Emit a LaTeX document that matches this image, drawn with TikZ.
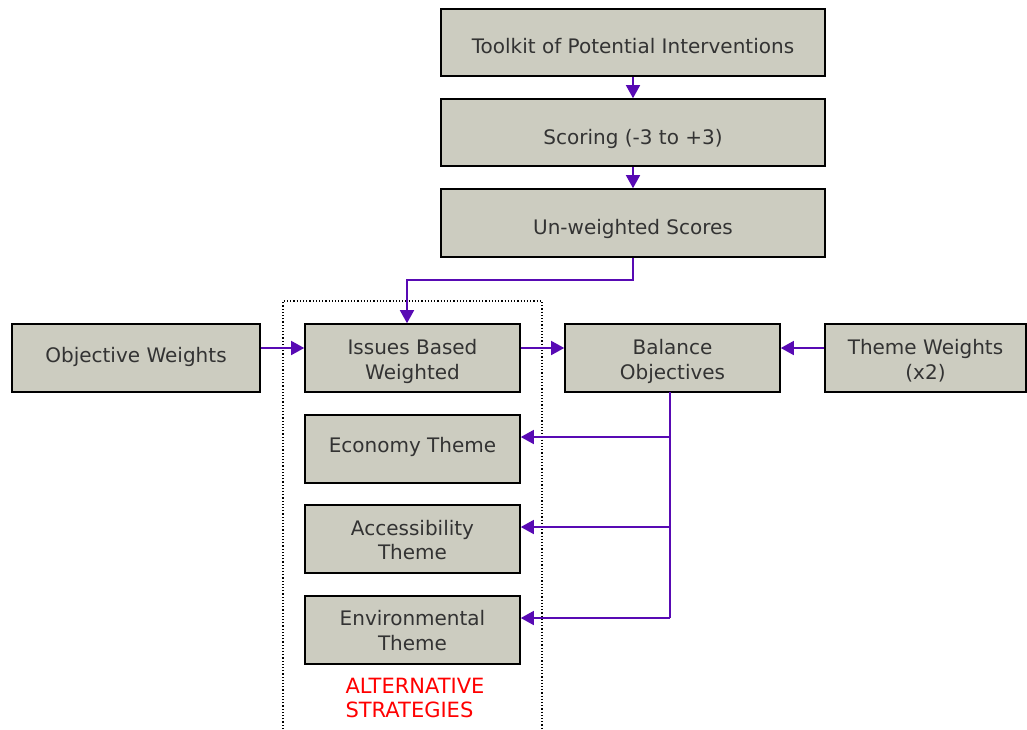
\documentclass[tikz,border=0pt]{standalone}
\usepackage{fontspec}
\setmainfont{DejaVu Sans}
\usetikzlibrary{arrows.meta}
\definecolor{boxfill}{RGB}{204,204,192}
\definecolor{arrowc}{RGB}{88,10,180}
\definecolor{txt}{RGB}{51,51,51}
\newcommand\lowtxt[2]{\raisebox{-#1}[\height][\depth]{\begin{tabular}{@{}c@{}}#2\end{tabular}}}
\begin{document}
\begin{tikzpicture}[x=1pt,y=-1pt,
  box/.style={draw=black,line width=1.6pt,fill=boxfill,text=txt,inner sep=0pt,align=center,
    font=\fontsize{20}{24.5}\selectfont},
  conn/.style={draw=arrowc,line width=1.5pt,-{Triangle[length=13pt,width=14pt]}},
  lnk/.style={draw=arrowc,line width=1.5pt}]
\useasboundingbox (0,0) rectangle (1027,729);
\fill[white] (0,0) rectangle (1027,729);
% dotted frame
\draw[dotted,line width=1.2pt] (283,729) -- (283,301) -- (542,301) -- (542,729);
\node[box,minimum width=384pt,minimum height=67pt] (tk) at (633,42.5) {\lowtxt{6pt}{Toolkit of Potential Interventions}};
\node[box,minimum width=384pt,minimum height=67pt] (sc) at (633,132.5) {\lowtxt{7pt}{Scoring (-3 to +3)}};
\node[box,minimum width=384pt,minimum height=68pt] (uw) at (633,223) {\lowtxt{7pt}{Un-weighted Scores}};
\node[box,minimum width=248pt,minimum height=68pt] (ow) at (136,358) {\lowtxt{0pt}{Objective Weights}};
\node[box,minimum width=215pt,minimum height=68pt] (ib) at (412.5,358) {\lowtxt{4pt}{Issues Based\\Weighted}};
\node[box,minimum width=215pt,minimum height=68pt] (bo) at (672.5,358) {\lowtxt{4pt}{Balance\\Objectives}};
\node[box,minimum width=201pt,minimum height=68pt] (tw) at (925.5,358) {\lowtxt{4pt}{Theme Weights\\(x2)}};
\node[box,minimum width=215pt,minimum height=68pt] (ec) at (412.5,449) {\lowtxt{-1pt}{Economy Theme}};
\node[box,minimum width=215pt,minimum height=68pt] (ac) at (412.5,539) {\lowtxt{3.5pt}{Accessibility\\Theme}};
\node[box,minimum width=215pt,minimum height=68pt] (en) at (412.5,630) {\lowtxt{3pt}{Environmental\\Theme}};
\node[text=red,align=left,inner sep=0pt,font=\fontsize{21}{24}\selectfont] (alt) at (415,698) {ALTERNATIVE\\STRATEGIES};
% connectors
\draw[conn] (tk.south) -- (sc.north);
\draw[conn] (sc.south) -- (uw.north);
\coordinate (j1) at (633,280);
\draw[conn] (uw.south) -- (j1) -| (ib.north -| 407,0);
\draw[conn] (ow.east |- 0,348) -- (ib.west |- 0,348);
\draw[conn] (ib.east |- 0,348) -- (bo.west |- 0,348);
\draw[conn] (tw.west |- 0,348) -- (bo.east |- 0,348);
\coordinate (b0) at (670,392);
\coordinate (b3) at (670,618);
\draw[lnk] (b0) -- (b3);
\draw[conn] (670,437) -- (ec.east |- 0,437);
\draw[conn] (670,527) -- (ac.east |- 0,527);
\draw[conn] (b3) -- (en.east |- 0,618);
\end{tikzpicture}
\end{document}
